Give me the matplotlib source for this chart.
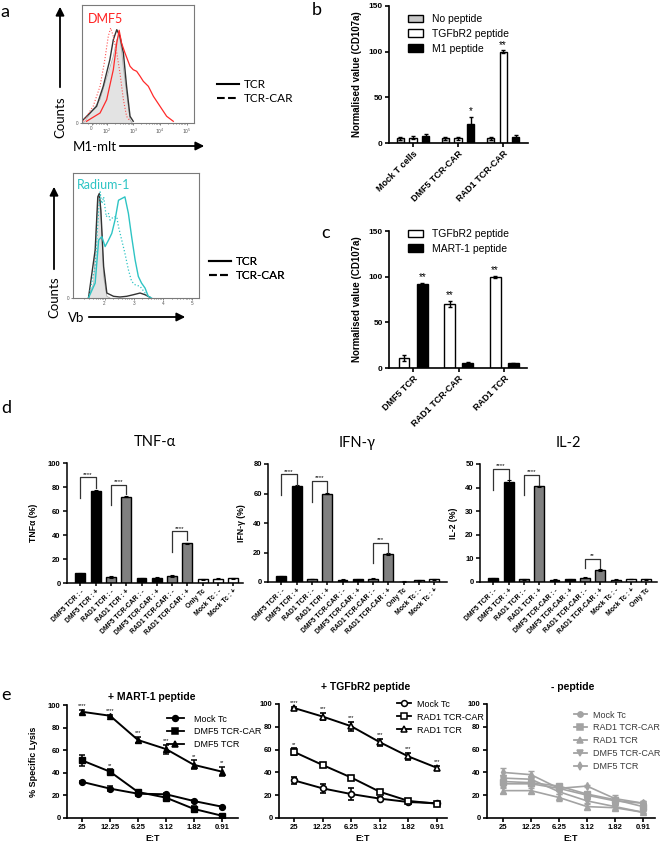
import numpy as np
import matplotlib
matplotlib.use('Agg')
import matplotlib.pyplot as plt
from matplotlib.lines import Line2D

plt.rcParams['font.family'] = ['Liberation Sans', 'DejaVu Sans']
LETTER_FONT = ['Lato', 'DejaVu Sans']

W, H = 660, 844

# ---------------- panel a: flow histograms (x in log decades) ----------------
dmf5_ctrl_x = [1.11, 1.17, 1.74, 1.99, 2.24, 2.37, 2.46, 2.55, 2.62, 2.74, 2.87, 2.95]
dmf5_ctrl_y = [0, 1.7, 23.3, 45, 66.7, 83.3, 88, 73.3, 55, 30, 3.3, 0]
dmf5_tcr_x = [1.11, 1.61, 1.86, 2.11, 2.24, 2.37, 2.49, 2.62, 2.74, 2.87, 2.99]
dmf5_tcr_y = [3.3, 16.7, 36.7, 63.3, 83.3, 93.3, 86.7, 70, 36.7, 6.7, 1.7]
dmf5_red_x = [1.23, 1.74, 1.99, 2.24, 2.37, 2.46, 2.55, 2.68, 2.87, 2.99, 3.12, 3.25,
              3.37, 3.56, 3.75, 4.00, 4.25, 4.50]
dmf5_red_y = [1.7, 10, 23.3, 53.3, 80, 92.7, 80, 70, 56.7, 53.3, 51.7, 46.7,
              41.7, 36.7, 26.7, 16.7, 6.7, 1.7]
dmf5_reddot_x = [1.11, 1.48, 1.74, 1.92, 2.05, 2.14, 2.24, 2.37, 2.49, 2.62, 2.74, 2.87]
dmf5_reddot_y = [1.7, 16.7, 36.7, 63.3, 86.7, 95, 86.7, 70, 50, 23.3, 6.7, 1.7]

rad_ctrl_x = [1.45, 1.63, 1.74, 1.80, 1.85, 1.91, 1.97, 2.08, 2.19]
rad_ctrl_y = [0, 15, 81.7, 103.3, 98.3, 65, 21.7, 1.7, 0]
rad_tcr_x = [1.45, 1.68, 1.77, 1.82, 1.875, 1.97, 2.08, 2.31, 2.53, 2.76, 2.99, 3.22, 3.39, 3.56]
rad_tcr_y = [0, 48.3, 101.7, 105, 88.3, 31.7, 5, 1.7, 1, 1.7, 3.3, 5, 3.3, 0.7]
rad_cyan_x = [1.45, 1.68, 1.80, 1.91, 2.02, 2.14, 2.25, 2.36, 2.48, 2.59, 2.70, 2.82,
              2.93, 3.05, 3.16, 3.27, 3.39, 3.50, 3.61]
rad_cyan_y = [0, 15, 58.3, 61.7, 51.7, 58.3, 65, 78.3, 98.3, 100, 101.7, 85,
              61.7, 38.3, 21.7, 15, 10, 1.7, 0]
rad_cyandot_x = [1.45, 1.68, 1.80, 1.85, 1.91, 1.97, 2.06, 2.14, 2.19, 2.31, 2.42, 2.48,
                 2.59, 2.70, 2.82, 2.93, 3.05, 3.22, 3.39, 3.50]
rad_cyandot_y = [0, 31.7, 88.3, 106.7, 95, 101.7, 81.7, 85, 78.3, 81.7, 81.7, 71.7,
                 58.3, 45, 28.3, 16.7, 13.3, 11.7, 5, 1.7]

# ---------------- panel b ----------------
b_groups = ['Mock T cells', 'DMF5 TCR-CAR', 'RAD1 TCR-CAR']
b_none = [5, 5, 5]
b_none_err = [2, 2, 2]
b_tgf = [6, 5, 100]
b_tgf_err = [2, 2, 1.5]
b_m1 = [8, 21, 7]
b_m1_err = [2, 7, 1.5]

# ---------------- panel c ----------------
c_groups = ['DMF5 TCR', 'RAD1 TCR-CAR', 'RAD1 TCR']
c_tgf = [11, 70, 100]
c_tgf_err = [3, 3, 1]
c_mart = [92, 6, 5]
c_mart_err = [1.5, 1, 1]

# ---------------- panel d ----------------
d_labels = ['DMF5 TCR : -', 'DMF5 TCR : +', 'RAD1 TCR : -', 'RAD1 TCR : +',
            'DMF5 TCR-CAR : -', 'DMF5 TCR-CAR : +', 'RAD1 TCR-CAR : -', 'RAD1 TCR-CAR : +',
            'Only Tc', 'Mock Tc : -', 'Mock Tc : +']
d_labels_il2 = d_labels[:8] + ['Mock Tc : -', 'Mock Tc : +', 'Only Tc']
d_colors = ['black', 'black', '#808080', '#808080', 'black', 'black',
            '#808080', '#808080', 'white', 'white', 'white']
tnf = [8, 77, 5, 72, 4, 4.5, 5.5, 33, 3, 3.5, 4]
tnf_err = [0.5, 0.5, 0.8, 0.5, 0.4, 0.5, 0.8, 0.6, 0.4, 0.4, 0.4]
ifn = [4, 65, 2, 60, 1.5, 1.8, 2.2, 19, 0.3, 1.2, 1.8]
ifn_err = [0.4, 0.5, 0.3, 0.6, 0.3, 0.3, 0.3, 0.6, 0.1, 0.2, 0.3]
il2 = [1.5, 42.5, 1.2, 40.5, 1.0, 1.2, 1.8, 5, 1.0, 1.2, 1.2]
il2_err = [0.2, 0.7, 0.2, 0.3, 0.1, 0.2, 0.2, 0.4, 0.1, 0.1, 0.2]
# (left bar, right bar, top, left leg end, right leg end, label)
tnf_brackets = [(0, 1, 88, 71, 79, '****'), (2, 3, 82, 65, 74, '****'), (6, 7, 43, 26, 36, '****')]
ifn_brackets = [(0, 1, 73, 59, 66, '****'), (2, 3, 68.5, 54, 61, '****'), (6, 7, 26.4, 13, 20, '***')]
il2_brackets = [(0, 1, 48, 39, 43.5, '****'), (2, 3, 45.3, 37, 41, '****'), (6, 7, 9.7, 6, 5.8, '**')]

# ---------------- panel e ----------------
et_labels = ['25', '12.25', '6.25', '3.12', '1.82', '0.91']
mart_mock = [32, 26, 21.5, 21, 15, 10]
mart_mock_err = [1, 2, 2, 1, 1, 1]
mart_car = [51, 41, 23, 18, 8, 2]
mart_car_err = [5, 2, 2, 1.5, 3, 1]
mart_tcr = [94, 90.5, 69, 61, 47, 41]
mart_tcr_err = [2, 1, 3, 4, 4, 4]
mart_tcr_sig = ['****', '****', '***', '***', '**', '**']
mart_car_sig = ['', '**', '', '', '', '']

tgf_mock = [33, 26, 21, 17, 14, 13]
tgf_mock_err = [3, 4, 5, 1.5, 1, 1]
tgf_car = [58, 46.5, 35.5, 23, 15, 12.5]
tgf_car_err = [3, 1, 1, 2, 1, 1]
tgf_tcr = [96.5, 89, 80.5, 66.5, 54, 44]
tgf_tcr_err = [1, 3, 4, 3, 3, 2]
tgf_tcr_sig = ['****', '***', '***', '***', '***', '***']
tgf_car_sig = ['**', '', '', '', '', '']

nop_names = ['Mock Tc', 'RAD1 TCR-CAR', 'RAD1 TCR', 'DMF5 TCR-CAR', 'DMF5 TCR']
nop_markers = ['o', 's', '^', 'v', 'd']
nop_vals = [[30, 30, 26, 20, 15, 13],
            [32, 31, 28, 21, 16, 10],
            [24, 24, 18, 10, 9, 5],
            [35, 34, 23, 15, 10, 5],
            [40, 38, 26, 28, 17, 13]]
nop_err = [[3, 2, 2, 2, 2, 2],
           [3, 3, 2, 2, 2, 2],
           [2, 2, 3, 2, 2, 1],
           [3, 2, 2, 2, 2, 1],
           [4, 3, 2, 1, 3, 2]]

fig = plt.figure(figsize=(W / 100, H / 100), dpi=100)


def add_ax(l, t, r, b):
    return fig.add_axes([l / W, 1 - b / H, (r - l) / W, (b - t) / H])


def ftext(x, y, s, **kw):
    fig.text(x / W, 1 - y / H, s, **kw)


def fig_anchor(x, y):
    return dict(bbox_to_anchor=(x / W, 1 - y / H), bbox_transform=fig.transFigure)


def gp_style(ax, lw=1.2, size=5.5):
    ax.spines[['top', 'right']].set_visible(False)
    ax.spines[['left', 'bottom']].set_linewidth(lw)
    ax.tick_params(direction='out', length=3, width=lw, labelsize=size, pad=1.5)
    for t in ax.get_xticklabels() + ax.get_yticklabels():
        t.set_fontweight('bold')


def ylabel_at(ax, text, px, left, right, size):
    ax.set_ylabel(text, fontsize=size, fontweight='bold')
    ax.yaxis.set_label_coords((px - left) / (right - left), 0.5)


# overlay for arrows
ov = fig.add_axes([0, 0, 1, 1])
ov.set_xlim(0, W)
ov.set_ylim(H, 0)
ov.axis('off')

# ---------------- panel a ----------------
def hist_axes(box, xlim, ylim, ticks, ticklabels):
    ax = add_ax(*box)
    ax.set_xlim(*xlim)
    ax.set_ylim(*ylim)
    for s in ax.spines.values():
        s.set_color('#7a7a7a')
        s.set_linewidth(0.8)
    ax.set_xticks(ticks, ticklabels)
    minor = [k + np.log10(m) for k in range(1, 6) for m in range(2, 10)]
    ax.set_xticks([m for m in minor if xlim[0] < m < xlim[1]], minor=True)
    ax.set_yticks([0], ['0'])
    ax.tick_params(axis='both', which='both', labelsize=3.3, length=1.5, width=0.5,
                   pad=1, colors='#555555')
    ax.tick_params(axis='x', which='minor', length=1)
    return ax

ha = hist_axes((82, 5, 194, 123), (1.06, 5.28), (0, 118),
               [1.42, 2, 3, 4, 5], ['0', '$10^2$', '$10^3$', '$10^4$', '$10^5$'])
ha.fill_between(dmf5_ctrl_x, dmf5_ctrl_y, color='#e3e3e3', lw=0)
ha.plot(dmf5_ctrl_x, dmf5_ctrl_y, color='#b0b0b0', lw=0.6)
ha.plot(dmf5_tcr_x, dmf5_tcr_y, color='#333333', lw=1.0)
ha.plot(dmf5_red_x, dmf5_red_y, color='#ff2a2a', lw=0.9)
ha.plot(dmf5_reddot_x, dmf5_reddot_y, color='#ff5050', lw=0.8, ls=':')
ha.text(0.05, 0.93, 'DMF5', transform=ha.transAxes, color='#ff2020', fontsize=9,
        va='top', family=LETTER_FONT)

hb = hist_axes((73, 173, 199, 298), (0.92, 5.24), (0, 125.7),
               [2, 3, 4, 5], ['2', '3', '4', '5'])
hb.fill_between(rad_ctrl_x, rad_ctrl_y, color='#e3e3e3', lw=0)
hb.plot(rad_ctrl_x, rad_ctrl_y, color='#b0b0b0', lw=0.6)
hb.plot(rad_tcr_x, rad_tcr_y, color='#333333', lw=1.0)
hb.plot(rad_cyan_x, rad_cyan_y, color='#2ec4c4', lw=1.0)
hb.plot(rad_cyandot_x, rad_cyandot_y, color='#2ec4c4', lw=0.9, ls=':')
hb.text(0.03, 0.95, 'Radium-1', transform=hb.transAxes, color='#2ec4c4', fontsize=9,
        va='top', family=LETTER_FONT)

arrow_kw = dict(arrowstyle='-|>,head_length=0.5,head_width=0.25', lw=1.3, color='black')
ov.annotate('', xy=(60, 4), xytext=(60, 90), arrowprops=arrow_kw)
ov.text(60, 117, 'Counts', rotation=90, ha='center', va='center', fontsize=9.5, family=LETTER_FONT)
ov.text(73, 147, 'M1-mlt', ha='left', va='center', fontsize=9.5, family=LETTER_FONT)
ov.annotate('', xy=(207, 146), xytext=(117, 146), arrowprops=arrow_kw)

ov.annotate('', xy=(54, 184), xytext=(54, 272), arrowprops=arrow_kw)
ov.text(54, 297, 'Counts', rotation=90, ha='center', va='center', fontsize=9.5, family=LETTER_FONT)
ov.text(68, 318, 'Vb', ha='left', va='center', fontsize=9.5, family=LETTER_FONT)
ov.annotate('', xy=(188, 317), xytext=(86, 317), arrowprops=arrow_kw)

hist_handles = [Line2D([], [], color='black', lw=1.5), Line2D([], [], color='black', lw=1.5, ls='--')]
for (lx, ly) in [(211, 73), (203, 250)]:
    lg = ov.legend(hist_handles, ['TCR', 'TCR-CAR'], loc='upper left', frameon=False,
                   handlelength=1.9, handletextpad=0.4, labelspacing=0.25, borderpad=0,
                   prop={'family': LETTER_FONT, 'size': 8.5}, **fig_anchor(lx, ly))
    ov.add_artist(lg)

# ---------------- panel b ----------------
axb = add_ax(389, 6, 528, 143)
xb = np.arange(len(b_groups))
bw = 0.16
axb.bar(xb - 0.28, b_none, bw, yerr=b_none_err, color='#c8c8c8', edgecolor='black', lw=1,
        capsize=1.5, error_kw=dict(lw=1, capthick=1), label='No peptide')
axb.bar(xb, b_tgf, bw, yerr=b_tgf_err, color='white', edgecolor='black', lw=1,
        capsize=1.5, error_kw=dict(lw=1, capthick=1), label='TGFbR2 peptide')
axb.bar(xb + 0.28, b_m1, bw, yerr=b_m1_err, color='black', edgecolor='black', lw=1,
        capsize=1.5, error_kw=dict(lw=1, capthick=1), label='M1 peptide')
axb.text(xb[1] + 0.28, b_m1[1] + b_m1_err[1] + 2, '*', ha='center', va='bottom', fontsize=7)
axb.text(xb[2], b_tgf[2] + b_tgf_err[2] + 0.5, '**', ha='center', va='bottom', fontsize=7)
axb.set_xlim(-0.53, 2.55)
axb.set_ylim(0, 150)
axb.set_yticks([0, 50, 100, 150])
axb.set_xticks(xb, b_groups, rotation=45, ha='right', va='top', rotation_mode='anchor')
gp_style(axb, size=6)
axb.tick_params(axis='x', labelsize=6.5)
ylabel_at(axb, 'Normalised value (CD107a)', 362, 389, 528, 7)
axb.legend(loc='upper left', frameon=False, fontsize=7.5, handlelength=1.4, handleheight=0.75,
           handletextpad=0.9, labelspacing=0.45, borderpad=0, **fig_anchor(403, 9))

# ---------------- panel c ----------------
axc = add_ax(389, 231, 527, 368)
xc = np.arange(len(c_groups))
cw = 0.24
axc.bar(xc - 0.2, c_tgf, cw, yerr=c_tgf_err, color='white', edgecolor='black', lw=1,
        capsize=1.5, error_kw=dict(lw=1, capthick=1), label='TGFbR2 peptide')
axc.bar(xc + 0.2, c_mart, cw, yerr=c_mart_err, color='black', edgecolor='black', lw=1,
        capsize=1.5, error_kw=dict(lw=1, capthick=1), label='MART-1 peptide')
axc.text(xc[0] + 0.2, c_mart[0] + c_mart_err[0] + 1, '**', ha='center', va='bottom', fontsize=7)
axc.text(xc[1] - 0.2, c_tgf[1] + c_tgf_err[1] + 1, '**', ha='center', va='bottom', fontsize=7)
axc.text(xc[2] - 0.2, c_tgf[2] + c_tgf_err[2] + 1, '**', ha='center', va='bottom', fontsize=7)
axc.set_xlim(-0.53, 2.5)
axc.set_ylim(0, 150)
axc.set_yticks([0, 50, 100, 150])
axc.set_xticks(xc, c_groups, rotation=45, ha='right', va='top', rotation_mode='anchor')
gp_style(axc, size=6)
axc.tick_params(axis='x', labelsize=6.5)
ylabel_at(axc, 'Normalised value (CD107a)', 362, 389, 527, 7)
axc.legend(loc='upper left', frameon=False, fontsize=7.5, handlelength=1.4, handleheight=0.75,
           handletextpad=0.9, labelspacing=0.45, borderpad=0, **fig_anchor(403, 224))

# ---------------- panel d ----------------
def cyto_panel(box, vals, errs, labels, colors, brackets, ymax, ystep, ylab, ylab_px, title):
    ax = add_ax(*box)
    x = np.arange(len(vals))
    ax.bar(x, vals, 0.65, yerr=errs, color=colors, edgecolor='black', lw=1,
           capsize=1.2, error_kw=dict(lw=0.8, capthick=0.8))
    for (i, j, top, lleg, rleg, lab) in brackets:
        ax.plot([i, i, j, j], [lleg, top, top, rleg], color='#333333', lw=0.9)
        ax.text((i + j) / 2, top + ymax * 0.005, lab, ha='center', va='bottom', fontsize=4.5)
    width_units = (box[2] - box[0]) / 15.3
    ax.set_xlim(-0.87, -0.87 + width_units)
    ax.set_ylim(0, ymax)
    ax.set_yticks(np.arange(0, ymax + 0.1, ystep))
    ax.set_xticks(x, labels, rotation=45, ha='right', va='top', rotation_mode='anchor')
    gp_style(ax, lw=1.1, size=5.5)
    ax.tick_params(axis='x', length=2, labelsize=4.9)
    ylabel_at(ax, ylab, ylab_px, box[0], box[2], 6.2)
    ax.set_title(title, fontsize=10.5, family=LETTER_FONT, pad=0, y=1.14)
    return ax

cyto_panel((67, 463, 243, 583), tnf, tnf_err, d_labels, d_colors, tnf_brackets,
           100, 20, 'TNFα (%)', 38, 'TNF-α')
cyto_panel((268, 464, 447, 582), ifn, ifn_err, d_labels, d_colors, ifn_brackets,
           80, 20, 'IFN-γ (%)', 246, 'IFN-γ')
cyto_panel((480, 464, 657, 582), il2, il2_err, d_labels_il2, d_colors, il2_brackets,
           50, 10, 'IL-2 (%)', 458, 'IL-2')

# ---------------- panel e ----------------
def lysis_axes(box, x0, spacing):
    ax = add_ax(*box)
    ax.set_xlim((box[0] - x0) / spacing, (box[2] - x0) / spacing)
    ax.set_ylim(0, 100)
    ax.set_yticks(np.arange(0, 101, 20))
    ax.set_xticks(np.arange(len(et_labels)), et_labels)
    gp_style(ax, lw=1.2, size=5.5)
    ax.set_xlabel('E:T', fontsize=6.5, fontweight='bold', labelpad=2)
    return ax

def sig_marks(ax, vals, errs, sig):
    for i, s in enumerate(sig):
        if s:
            ax.text(i, vals[i] + errs[i] + 1.5, s, ha='center', va='bottom', fontsize=4)

def line_handles(markers, color, mfc=None, ms=4.2):
    return [Line2D([], [], color=color, lw=1.3, marker=m, ms=ms,
                   mfc=mfc if mfc else color, mew=1.1) for m in markers]

x_et = np.arange(len(et_labels))
line_kw = dict(lw=1.4, capsize=2, elinewidth=1.1, capthick=1.1, ms=4.2)

ae1 = lysis_axes((67, 705, 238, 818), 82, 28)
ae1.errorbar(x_et, mart_mock, yerr=mart_mock_err, color='black', marker='o', **line_kw)
ae1.errorbar(x_et, mart_car, yerr=mart_car_err, color='black', marker='s', **line_kw)
ae1.errorbar(x_et, mart_tcr, yerr=mart_tcr_err, color='black', marker='^', **line_kw)
sig_marks(ae1, mart_tcr, mart_tcr_err, mart_tcr_sig)
sig_marks(ae1, mart_car, mart_car_err, mart_car_sig)
ae1.set_ylabel('% Specific Lysis', fontsize=6.5, fontweight='bold')
ae1.yaxis.set_label_coords((38 - 67) / (238 - 67), 0.5)
ae1.legend(line_handles(['o', 's', '^'], 'black'), ['Mock Tc', 'DMF5 TCR-CAR', 'DMF5 TCR'],
           loc='upper left', frameon=False, fontsize=6.5, handlelength=1.9, handletextpad=1.2,
           labelspacing=0.42, borderpad=0, **fig_anchor(162, 710))

open_kw = dict(line_kw, mfc='white', mew=1.2)
ae2 = lysis_axes((279, 704, 447, 818), 294, 28.6)
ae2.errorbar(x_et, tgf_mock, yerr=tgf_mock_err, color='black', marker='o', **open_kw)
ae2.errorbar(x_et, tgf_car, yerr=tgf_car_err, color='black', marker='s', **open_kw)
ae2.errorbar(x_et, tgf_tcr, yerr=tgf_tcr_err, color='black', marker='^', **open_kw)
sig_marks(ae2, tgf_tcr, tgf_tcr_err, tgf_tcr_sig)
sig_marks(ae2, tgf_car, tgf_car_err, tgf_car_sig)
ae2.legend(line_handles(['o', 's', '^'], 'black', mfc='white'), ['Mock Tc', 'RAD1 TCR-CAR', 'RAD1 TCR'],
           loc='upper left', frameon=False, fontsize=6.5, handlelength=1.55, handletextpad=0.7,
           labelspacing=0.45, borderpad=0, **fig_anchor(392, 695))

ae3 = lysis_axes((487, 704, 655, 818), 503, 28)
gray = '#a3a3a3'
for name, mk, v, e in zip(nop_names, nop_markers, nop_vals, nop_err):
    ae3.errorbar(x_et, v, yerr=e, color=gray, marker=mk,
                 lw=1.2, capsize=2, elinewidth=1, capthick=1, ms=4)
lg3 = ae3.legend(line_handles(nop_markers, gray, ms=3.8), nop_names,
                 loc='upper left', frameon=False, fontsize=6.5, handlelength=1.45,
                 handletextpad=0.75, labelspacing=0.42, borderpad=0, **fig_anchor(569, 706))
for t in lg3.get_texts():
    t.set_color('#3a3a3a')

ftext(152, 697, '+ MART-1 peptide', ha='center', va='center', fontsize=7.5, fontweight='bold')
ftext(366, 687, '+ TGFbR2 peptide', ha='center', va='center', fontsize=7.5, fontweight='bold')
ftext(573, 687, '- peptide', ha='center', va='center', fontsize=7.5, fontweight='bold')

# panel letters
for letter, x, y in [('a', 0, 17), ('b', 312, 15), ('c', 321, 238), ('d', 1, 413), ('e', 1, 700)]:
    ftext(x, y, letter, ha='left', va='baseline', fontsize=13, family=LETTER_FONT)

fig.savefig('out.png', dpi=100)
